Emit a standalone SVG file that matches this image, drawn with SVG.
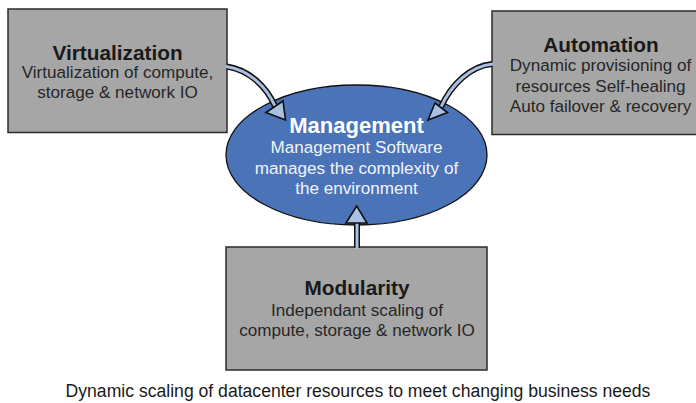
<svg xmlns="http://www.w3.org/2000/svg" width="696" height="403" viewBox="0 0 696 403">
  <defs>
    <style>
      .box { fill: #a6a6a6; stroke: #2b2b2b; stroke-width: 1.5; }
      .hub { fill: #4a73b8; stroke: #111; stroke-width: 1.3; }
      .title { font-family: "Liberation Sans", Arial, sans-serif; font-weight: bold; font-size: 20.8px; fill: #1a1a1a; text-anchor: middle; }
      .body { font-family: "Liberation Sans", Arial, sans-serif; font-size: 17.1px; fill: #262626; text-anchor: middle; }
      .hub-title { fill: #ffffff; font-size: 22px; }
      .hub-body { fill: #f2f5fb; }
      .shaft-out { fill: none; stroke: #111; stroke-width: 6; }
      .shaft-in { fill: none; stroke: #a9c0e2; stroke-width: 3; }
      .head { fill: #a9c0e2; stroke: #111; stroke-width: 1.6; stroke-linejoin: miter; }
      .caption { font-family: "Liberation Sans", Arial, sans-serif; font-size: 17.6px; fill: #1a1a1a; text-anchor: middle; }
    </style>
  </defs>

  <rect width="696" height="403" fill="#ffffff"/>

  <g id="node-virtualization">
    <rect class="box" x="8" y="9" width="219" height="123.5"/>
    <text class="title" x="117.5" y="60">Virtualization</text>
    <text class="body" x="117.5" y="77.5">Virtualization of compute,</text>
    <text class="body" x="117.5" y="98">storage &amp; network IO</text>
  </g>

  <g id="node-automation">
    <rect class="box" x="492" y="11" width="220" height="123.5"/>
    <text class="title" x="601" y="51.5">Automation</text>
    <text class="body" x="600.5" y="71">Dynamic provisioning of</text>
    <text class="body" x="600.5" y="91.5">resources Self-healing</text>
    <text class="body" x="600.5" y="111.5">Auto failover &amp; recovery</text>
  </g>

  <g id="node-management">
    <ellipse class="hub" cx="356.5" cy="155" rx="130.5" ry="70"/>
    <text class="title hub-title" x="356.5" y="132.5">Management</text>
    <text class="body hub-body" x="356.5" y="153">Management Software</text>
    <text class="body hub-body" x="356.5" y="174">manages the complexity of</text>
    <text class="body hub-body" x="356.5" y="194">the environment</text>
  </g>

  <g id="node-modularity">
    <rect class="box" x="226" y="247" width="261" height="123"/>
    <text class="title" x="357" y="295">Modularity</text>
    <text class="body" x="357" y="315.5">Independant scaling of</text>
    <text class="body" x="357" y="336">compute, storage &amp; network IO</text>
  </g>

  <!-- connectors: hollow block arrows feeding the central hub, drawn over it -->
  <g id="connectors">
    <g id="arrow-virtualization">
      <path class="shaft-out" d="M227,66.5 C249,70 266,86 275,106"/>
      <path class="shaft-in" d="M226,66.5 C249,70 266,86 275,106"/>
      <polygon class="head" points="266,112.5 283,101 285.5,120"/>
    </g>
    <g id="arrow-automation">
      <path class="shaft-out" d="M492,64 C470,66 451,85 441,107"/>
      <path class="shaft-in" d="M493,64 C470,66 451,85 441,107"/>
      <polygon class="head" points="435,103 447.5,112.5 428,120"/>
    </g>
    <g id="arrow-modularity">
      <path class="shaft-out" d="M357,248 L357,222"/>
      <path class="shaft-in" d="M357,249 L357,221"/>
      <polygon class="head" points="346,223 367,223 356.7,206"/>
    </g>
  </g>

  <text class="caption" x="358" y="397">Dynamic scaling of datacenter resources to meet changing business needs</text>
</svg>
